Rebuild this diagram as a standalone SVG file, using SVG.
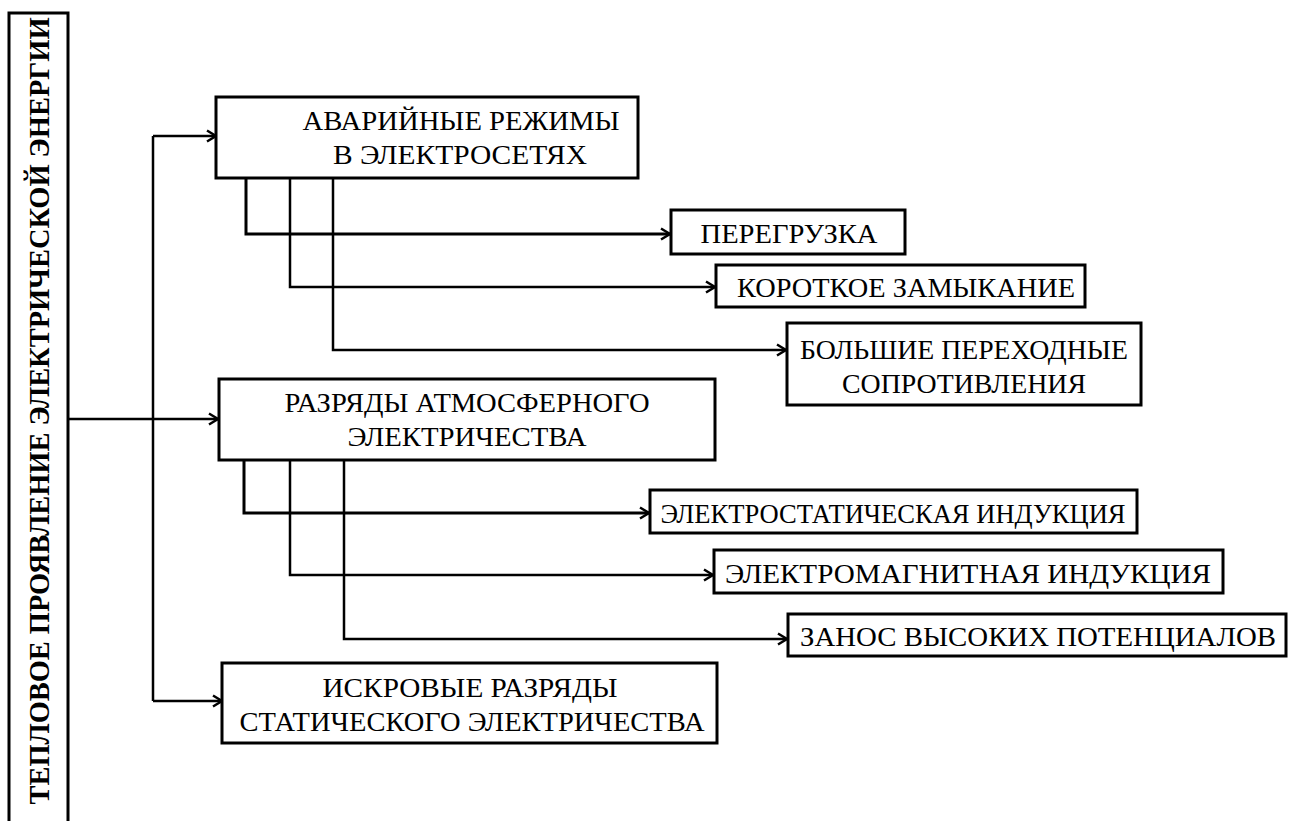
<svg xmlns="http://www.w3.org/2000/svg" width="1294" height="821" viewBox="0 0 1294 821">
<style>
.box{fill:#fff;stroke:#000;stroke-width:3}
.t{font-family:'Liberation Serif','Times New Roman',serif;font-size:28px;fill:#000;text-anchor:middle}
.title{font-family:'Liberation Serif','Times New Roman',serif;font-size:29px;font-weight:bold;fill:#000;text-anchor:middle}
.c{fill:none;stroke:#000;stroke-width:2.5}
.ca{fill:none;stroke:#000;stroke-width:2.5;marker-end:url(#arr)}
</style>
<defs>
<marker id="arr" markerUnits="userSpaceOnUse" markerWidth="14" markerHeight="14" refX="11" refY="7" orient="auto">
<path d="M2,1.5 L11,7 L2,12.5" fill="none" stroke="#000" stroke-width="2.5"/>
</marker>
</defs>
<g id="title">
<path d="M9,821 L9,13 L68,13 L68,821" fill="#fff" stroke="#000" stroke-width="3"/>
<text class="title" transform="translate(49,411) rotate(-90)" textLength="787" lengthAdjust="spacingAndGlyphs">ТЕПЛОВОЕ ПРОЯВЛЕНИЕ ЭЛЕКТРИЧЕСКОЙ ЭНЕРГИИ</text>
</g>
<g id="connectors">
<path class="ca" d="M68,419 L218,419"/>
<path class="c" d="M153,701 L153,136"/>
<path class="ca" d="M153,136 L216,136"/>
<path class="ca" d="M153,701 L222,701"/>
<path class="ca" d="M246,178 L246,234 L670,234" style="stroke-width:3"/>
<path class="ca" d="M290,178 L290,287 L715,287"/>
<path class="ca" d="M333,178 L333,350 L786,350"/>
<path class="ca" d="M244,460 L244,513 L649,513" style="stroke-width:3"/>
<path class="ca" d="M290,460 L290,575 L713,575"/>
<path class="ca" d="M344,460 L344,639 L787,639"/>
</g>
<g id="n1">
<rect class="box" x="216" y="97" width="422" height="81"/>
<text class="t" x="461" y="130" textLength="317" lengthAdjust="spacingAndGlyphs">АВАРИЙНЫЕ РЕЖИМЫ</text>
<text class="t" x="460" y="164" textLength="254" lengthAdjust="spacingAndGlyphs">В ЭЛЕКТРОСЕТЯХ</text>
</g>
<g id="n2">
<rect class="box" x="219" y="379" width="496" height="81"/>
<text class="t" x="467" y="412" textLength="365" lengthAdjust="spacingAndGlyphs">РАЗРЯДЫ АТМОСФЕРНОГО</text>
<text class="t" x="467" y="446" textLength="239" lengthAdjust="spacingAndGlyphs">ЭЛЕКТРИЧЕСТВА</text>
</g>
<g id="n3">
<rect class="box" x="222" y="663" width="495" height="80"/>
<text class="t" x="470" y="697" textLength="295" lengthAdjust="spacingAndGlyphs">ИСКРОВЫЕ РАЗРЯДЫ</text>
<text class="t" x="472" y="731" textLength="465" lengthAdjust="spacingAndGlyphs">СТАТИЧЕСКОГО ЭЛЕКТРИЧЕСТВА</text>
</g>
<g id="n4">
<rect class="box" x="671" y="210" width="234" height="44"/>
<text class="t" x="789" y="243" textLength="177" lengthAdjust="spacingAndGlyphs">ПЕРЕГРУЗКА</text>
</g>
<g id="n5">
<rect class="box" x="716" y="265" width="369" height="42"/>
<text class="t" x="906" y="297" textLength="338" lengthAdjust="spacingAndGlyphs">КОРОТКОЕ ЗАМЫКАНИЕ</text>
</g>
<g id="n6">
<rect class="box" x="787" y="323" width="354" height="82"/>
<text class="t" x="964" y="359" textLength="328" lengthAdjust="spacingAndGlyphs">БОЛЬШИЕ ПЕРЕХОДНЫЕ</text>
<text class="t" x="964" y="393" textLength="244" lengthAdjust="spacingAndGlyphs">СОПРОТИВЛЕНИЯ</text>
</g>
<g id="n7">
<rect class="box" x="650" y="490" width="487" height="43"/>
<text class="t" x="893" y="523" textLength="465" lengthAdjust="spacingAndGlyphs">ЭЛЕКТРОСТАТИЧЕСКАЯ ИНДУКЦИЯ</text>
</g>
<g id="n8">
<rect class="box" x="714" y="550" width="509" height="43"/>
<text class="t" x="968" y="583" textLength="486" lengthAdjust="spacingAndGlyphs">ЭЛЕКТРОМАГНИТНАЯ ИНДУКЦИЯ</text>
</g>
<g id="n9">
<rect class="box" x="788" y="614" width="498" height="42"/>
<text class="t" x="1038" y="646" textLength="476" lengthAdjust="spacingAndGlyphs">ЗАНОС ВЫСОКИХ ПОТЕНЦИАЛОВ</text>
</g>
</svg>
